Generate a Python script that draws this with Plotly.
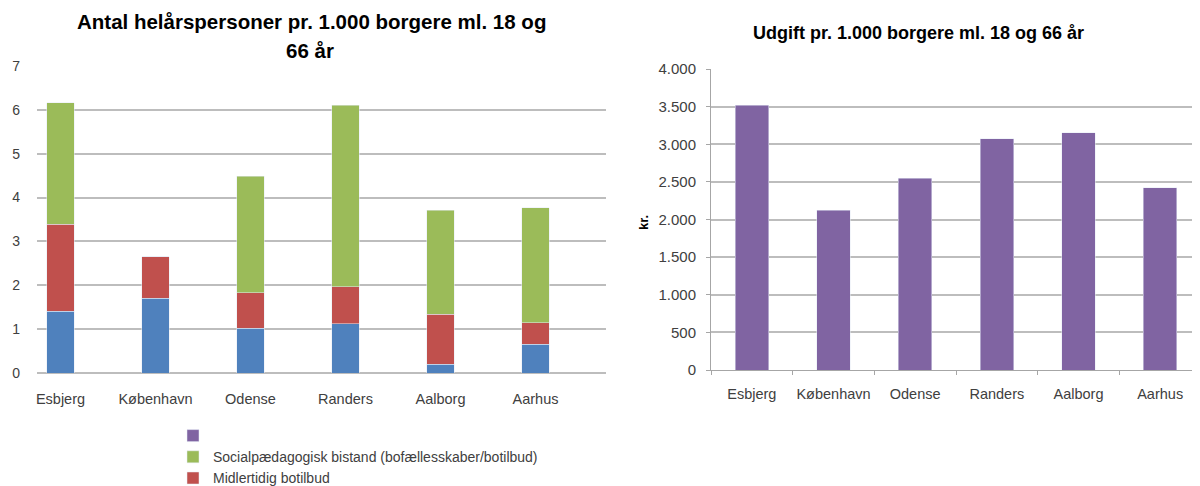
import plotly.graph_objects as go

categories = ["Esbjerg", "København", "Odense", "Randers", "Aalborg", "Aarhus"]

# Left chart: stacked series (helårspersoner pr. 1.000 borgere)
blue_vals = [1.41, 1.70, 1.02, 1.12, 0.20, 0.65]
red_vals = [1.98, 0.95, 0.81, 0.85, 1.14, 0.50]
green_vals = [2.77, 0.00, 2.66, 4.13, 2.37, 2.62]

# Right chart: udgift pr. 1.000 borgere (kr.)
expense_vals = [3520, 2120, 2550, 3070, 3150, 2420]

left_yticks = [0, 1, 2, 3, 4, 5, 6, 7]
right_yticks = [0, 500, 1000, 1500, 2000, 2500, 3000, 3500, 4000]

name_red = "Midlertidig botilbud"
name_green = "Socialpædagogisk bistand (bofællesskaber/botilbud)"
name_blue = "Anden"
name_purple = " "

W, H = 1200, 486
OFF = 8  # page body margin offset
FONT = "Liberation Sans"
TXT = "#404040"
GRID = "#BDBDBD"
AX = "#A6A6A6"

fig = go.Figure()
fig.add_trace(go.Bar(x=categories, y=blue_vals, name=name_blue, marker_color="#4F81BD",
                     width=0.285, showlegend=False, xaxis="x", yaxis="y"))
fig.add_trace(go.Bar(x=categories, y=red_vals, name=name_red, marker_color="#C0504D",
                     width=0.285, xaxis="x", yaxis="y"))
fig.add_trace(go.Bar(x=categories, y=green_vals, name=name_green, marker_color="#9BBB59",
                     width=0.285, xaxis="x", yaxis="y"))
fig.add_trace(go.Bar(x=categories, y=expense_vals, name=name_purple, marker_color="#8064A2",
                     width=0.41, xaxis="x2", yaxis="y2"))


def px_x(p):
    return (p - OFF) / W


def px_y(p):
    return (H - (p - OFF)) / H


fig.update_layout(
    width=W, height=H,
    margin=dict(l=0, r=0, t=0, b=0, autoexpand=False),
    paper_bgcolor="white", plot_bgcolor="white",
    barmode="stack",
    separators=",.",
    font=dict(family=FONT, size=12, color=TXT),
    xaxis=dict(domain=[px_x(37), px_x(606)], anchor="y", range=[-0.247, 5.742],
               showgrid=False, showline=False, automargin=False, tickangle=0,
               ticks="", tickfont=dict(size=14.5, color=TXT), zeroline=False,
               ticklabelstandoff=15),
    yaxis=dict(domain=[px_y(373), px_y(66)], anchor="x", range=[0, 7], tickvals=left_yticks,
               showgrid=True, gridcolor=GRID, gridwidth=1.5, zeroline=True, zerolinecolor=GRID,
               zerolinewidth=1.5, showline=False, ticks="", tickfont=dict(size=14, color=TXT),
               ticklabelstandoff=16, automargin=False),
    xaxis2=dict(domain=[px_x(711), px_x(1201)], anchor="y2", showgrid=False, showline=True,
                linecolor=AX, linewidth=1, ticks="outside", tickson="boundaries",
                ticklen=4, tickcolor=AX, tickfont=dict(size=14.5, color=TXT), tickangle=0,
                ticklabelstandoff=11, automargin=False),
    yaxis2=dict(domain=[px_y(370), px_y(69)], anchor="x2", range=[0, 4000], tickvals=right_yticks,
                tickformat=",d", showgrid=True, gridcolor=GRID, gridwidth=1.5, showline=True,
                linecolor=AX, linewidth=1, ticks="outside", ticklen=4, tickcolor=AX,
                zeroline=False, tickfont=dict(size=15, color=TXT), ticklabelstandoff=7,
                automargin=False),
    legend=dict(x=px_x(173), y=px_y(420), xanchor="left", yanchor="top",
                traceorder="reversed", font=dict(size=14, color=TXT),
                bgcolor="rgba(0,0,0,0)", itemwidth=30, tracegroupgap=0),
    annotations=[
        dict(text="<b>Antal helårspersoner pr. 1.000 borgere ml. 18 og</b>", x=px_x(311), y=px_y(22),
             xref="paper", yref="paper", showarrow=False, xanchor="center", yanchor="middle",
             font=dict(size=20.5, color="#000000", family=FONT)),
        dict(text="<b>66 år</b>", x=px_x(310), y=px_y(50),
             xref="paper", yref="paper", showarrow=False, xanchor="center", yanchor="middle",
             font=dict(size=20.5, color="#000000", family=FONT)),
        dict(text="<b>Udgift pr. 1.000 borgere ml. 18 og 66 år</b>", x=px_x(918), y=px_y(33),
             xref="paper", yref="paper", showarrow=False, xanchor="center", yanchor="middle",
             font=dict(size=18, color="#000000", family=FONT)),
        dict(text="<b>kr.</b>", x=px_x(643), y=px_y(223), textangle=-90,
             xref="paper", yref="paper", showarrow=False, xanchor="center", yanchor="middle",
             font=dict(size=13, color="#000000", family=FONT)),
    ],
)

fig.write_html("out.html")
